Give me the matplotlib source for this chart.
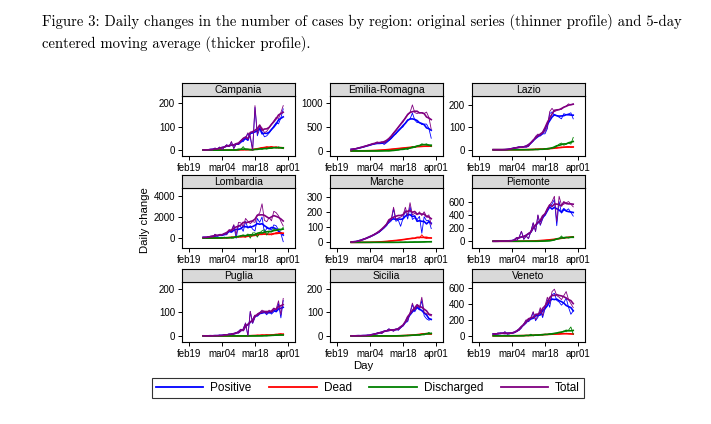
import numpy as np
import pandas as pd
import matplotlib
matplotlib.use("Agg")
import matplotlib.pyplot as plt
from matplotlib.lines import Line2D

# daily changes by region, 25 feb - 30 mar 2020
days = pd.date_range("2020-02-25", "2020-03-30")

campania_pos = [0, 0, 3, 1, 0, 9, 4, 13, 1, 14, 23, 15, 35, 7, 26, 24, 36, 36, 51, 70,
                55, 0, 182, 61, 91, 79, 57, 61, 73, 87, 103, 117, 112, 138, 176]
campania_dead = [0, 0, 0, 0, 0, 0, 0, 0, 0, 0, 0, 0, 0, 0, 1, 1, 2, 1, 2, 2,
                 3, 0, 5, 4, 8, 12, 10, 14, 12, 16, 10, 14, 9, 12, 8]
campania_disch = [0, 0, 0, 0, 0, 0, 0, 0, 0, 0, 0, 0, 2, 0, 0, 0, 3, 15, 1, 2,
                  2, 0, 3, 4, 6, 4, 8, 5, 10, 7, 12, 9, 14, 10, 6]
campania_total = [0, 0, 3, 1, 0, 9, 4, 13, 1, 14, 23, 15, 37, 7, 27, 25, 41, 52, 54, 74,
                  60, 0, 190, 69, 105, 95, 75, 80, 95, 110, 125, 140, 135, 160, 190]

emilia_pos = [10, 40, 49, 58, 68, 77, 96, 115, 124, 132, 150, 178, 154, 172, 135, 170, 220, 260, 330, 355,
              430, 475, 500, 585, 650, 665, 790, 645, 590, 595, 550, 560, 560, 470, 265]
emilia_dead = [0, 0, 1, 2, 2, 3, 4, 5, 6, 8, 10, 12, 16, 18, 20, 25, 30, 35, 40, 45,
               50, 55, 60, 65, 70, 75, 80, 85, 90, 95, 100, 90, 100, 110, 95]
emilia_disch = [0, 0, 0, 0, 0, 0, 0, 0, 0, 0, 0, 0, 0, 0, 5, 5, 0, 5, 10, 20,
                20, 30, 40, 50, 30, 60, 90, 70, 100, 110, 150, 130, 150, 120, 90]
emilia_total = [10, 40, 50, 60, 70, 80, 100, 120, 130, 140, 160, 190, 170, 190, 160, 200, 250, 300, 380, 420,
                500, 560, 600, 700, 750, 800, 960, 800, 780, 800, 800, 780, 810, 700, 450]

lazio_pos = [0, 0, 0, 0, 0, 0, 0, 2, 5, 8, 10, 12, 10, 15, 11, 15, 29, 38, 56, 67,
             61, 71, 71, 94, 161, 169, 154, 153, 145, 138, 161, 157, 160, 165, 138]
lazio_dead = [0, 0, 0, 0, 0, 0, 0, 0, 0, 0, 0, 0, 0, 0, 1, 0, 1, 2, 1, 3,
              2, 3, 4, 3, 5, 6, 8, 7, 10, 12, 9, 13, 15, 10, 12]
lazio_disch = [0, 0, 0, 0, 0, 0, 0, 0, 0, 0, 0, 0, 0, 0, 0, 0, 0, 0, 3, 0,
               2, 1, 5, 3, 4, 10, 8, 15, 25, 30, 20, 25, 30, 25, 55]
lazio_total = [0, 0, 0, 0, 0, 0, 0, 2, 5, 8, 10, 12, 10, 15, 12, 15, 30, 40, 60, 70,
               65, 75, 80, 100, 170, 185, 170, 175, 180, 180, 190, 195, 205, 200, 205]

lombardia_pos = [65, 18, 140, 85, 78, 368, 183, 249, 282, 306, 324, 689, 656, 1214, -13, 1240, 1068, 649, 1589, 935,
                 1175, 851, 674, 1862, 1499, 2005, 530, 935, 940, 747, 1256, 1168, 775, 426, -334]
lombardia_dead = [3, 0, 5, 3, 6, 1, 14, 17, 18, 25, 37, 19, 113, 66, 135, 149, 127, 146, 76, 252,
                  202, 220, 319, 209, 381, 546, 361, 320, 402, 296, 387, 541, 542, 416, 458]
lombardia_disch = [0, 0, 0, 40, 0, 0, 73, 0, 0, 100, 0, 100, 0, 0, 200, 100, 250, 300, 200, 400,
                   0, 500, 500, 100, 500, 700, 800, 300, 600, 600, 900, 700, 800, 750, 1030]
lombardia_total = [68, 18, 145, 128, 84, 369, 270, 266, 300, 431, 361, 808, 769, 1280, 322, 1489, 1445, 1095, 1865, 1587,
                   1377, 1571, 1493, 2171, 2380, 3251, 1691, 1555, 1942, 1643, 2543, 2409, 2117, 1592, 1154]

marche_pos = [0, 2, 5, 8, 10, 20, 25, 30, 35, 44, 54, 58, 67, 82, 95, 115, 127, 140, 220, 138,
              146, 105, 157, 208, 153, 234, 150, 161, 149, 170, 60, 168, 141, 145, 90]
marche_dead = [0, 0, 0, 0, 0, 0, 0, 0, 0, 1, 1, 2, 3, 3, 5, 5, 8, 10, 10, 12,
               14, 15, 18, 20, 22, 25, 28, 26, 30, 28, 50, 30, 25, 30, 30]
marche_disch = [0, 0, 0, 0, 0, 0, 0, 0, 0, 0, 0, 0, 0, 0, 0, 0, 0, 0, 0, 0,
                0, 1, 0, 2, 0, 1, 2, 3, 1, 2, 3, 2, 4, 5, 3]
marche_total = [0, 2, 5, 8, 10, 20, 25, 30, 35, 45, 55, 60, 70, 85, 100, 120, 135, 150, 230, 150,
                160, 165, 175, 230, 175, 260, 180, 190, 180, 200, 175, 200, 170, 180, 115]

piemonte_pos = [0, 0, 1, 0, 2, 5, 2, 3, 10, 15, 10, 60, 150, 29, 78, 38, 147, 277, 145, 392,
                240, 336, 400, 475, 527, 565, 630, 235, 600, 425, 470, 465, 490, 435, 380]
piemonte_dead = [0, 0, 0, 0, 0, 0, 0, 0, 0, 0, 0, 0, 0, 1, 2, 2, 3, 3, 5, 8,
                 10, 12, 15, 20, 18, 25, 30, 35, 40, 45, 50, 55, 60, 65, 70]
piemonte_disch = [0, 0, 0, 0, 0, 0, 0, 0, 0, 0, 0, 0, 0, 0, 0, 0, 0, 0, 0, 0,
                  0, 2, 5, 5, 5, 10, 20, 30, 40, 80, 40, 60, 50, 60, 70]
piemonte_total = [0, 0, 1, 0, 2, 5, 2, 3, 10, 15, 10, 60, 150, 30, 80, 40, 150, 280, 150, 400,
                  250, 350, 420, 500, 550, 600, 680, 300, 680, 550, 560, 580, 600, 560, 520]

puglia_pos = [0, 1, 0, 0, 0, 2, 0, 3, 0, 4, 5, 8, 4, 8, 15, 12, 20, 30, 55, 0,
              104, 53, 79, 92, 98, 106, 101, 90, 106, 93, 103, 107, 138, 77, 151]
puglia_dead = [0, 0, 0, 0, 0, 0, 0, 0, 0, 0, 0, 0, 0, 0, 0, 0, 0, 0, 0, 0,
               1, 2, 1, 3, 2, 4, 3, 5, 2, 4, 6, 3, 8, 10, 5]
puglia_disch = [0, 0, 0, 0, 0, 0, 0, 0, 0, 0, 0, 0, 0, 0, 0, 0, 0, 0, 0, 0,
                0, 0, 0, 0, 0, 0, 1, 0, 2, 3, 1, 5, 4, 3, 4]
puglia_total = [0, 1, 0, 0, 0, 2, 0, 3, 0, 4, 5, 8, 4, 8, 15, 12, 20, 30, 55, 0,
                105, 55, 80, 95, 100, 110, 105, 95, 110, 100, 110, 115, 150, 90, 160]

sicilia_pos = [0, 1, 0, 0, 1, 2, 0, 3, 1, 5, 8, 12, 15, 10, 20, 22, 30, 25, 20, 30,
               24, 34, 43, 57, 61, 95, 134, 103, 120, 111, 151, 86, 73, 67, 71]
sicilia_dead = [0, 0, 0, 0, 0, 0, 0, 0, 0, 0, 0, 0, 0, 0, 0, 0, 0, 0, 0, 0,
                1, 0, 2, 1, 3, 2, 4, 3, 5, 6, 8, 10, 12, 8, 6]
sicilia_disch = [0, 0, 0, 0, 0, 0, 0, 0, 0, 0, 0, 0, 0, 0, 0, 0, 0, 0, 0, 0,
                 0, 1, 0, 2, 1, 3, 2, 4, 5, 3, 6, 4, 10, 15, 8]
sicilia_total = [0, 1, 0, 0, 1, 2, 0, 3, 1, 5, 8, 12, 15, 10, 20, 22, 30, 25, 20, 30,
                 25, 35, 45, 60, 65, 100, 140, 110, 130, 120, 165, 100, 95, 90, 85]

veneto_pos = [15, 20, 35, 25, 30, 50, 20, 25, 35, 37, 54, 68, 98, 147, 191, 175, 205, 294, 187, 230,
              323, 226, 335, 448, 355, 512, 528, 440, 420, 381, 412, 470, 355, 268, 310]
veneto_dead = [0, 0, 0, 0, 0, 0, 0, 0, 0, 1, 1, 2, 2, 3, 4, 5, 5, 6, 8, 10,
               12, 14, 15, 17, 20, 18, 22, 25, 20, 24, 28, 30, 25, 22, 20]
veneto_disch = [0, 0, 0, 0, 0, 0, 0, 0, 0, 2, 0, 0, 0, 0, 5, 0, 20, 0, 5, 10,
                15, 10, 20, 15, 25, 20, 30, 35, 40, 45, 60, 50, 70, 110, 20]
veneto_total = [15, 20, 35, 25, 30, 50, 20, 25, 35, 40, 55, 70, 100, 150, 200, 180, 230, 300, 200, 250,
                350, 250, 370, 480, 400, 550, 580, 500, 480, 450, 500, 550, 450, 400, 350]

regions = ["Campania", "Emilia-Romagna", "Lazio", "Lombardia", "Marche",
           "Piemonte", "Puglia", "Sicilia", "Veneto"]
data = {
    "Campania": [campania_pos, campania_dead, campania_disch, campania_total],
    "Emilia-Romagna": [emilia_pos, emilia_dead, emilia_disch, emilia_total],
    "Lazio": [lazio_pos, lazio_dead, lazio_disch, lazio_total],
    "Lombardia": [lombardia_pos, lombardia_dead, lombardia_disch, lombardia_total],
    "Marche": [marche_pos, marche_dead, marche_disch, marche_total],
    "Piemonte": [piemonte_pos, piemonte_dead, piemonte_disch, piemonte_total],
    "Puglia": [puglia_pos, puglia_dead, puglia_disch, puglia_total],
    "Sicilia": [sicilia_pos, sicilia_dead, sicilia_disch, sicilia_total],
    "Veneto": [veneto_pos, veneto_dead, veneto_disch, veneto_total],
}
series_names = ["Positive", "Dead", "Discharged", "Total"]
yticks = {
    "Campania": [0, 100, 200], "Emilia-Romagna": [0, 500, 1000], "Lazio": [0, 100, 200],
    "Lombardia": [0, 2000, 4000], "Marche": [0, 100, 200, 300], "Piemonte": [0, 200, 400, 600],
    "Puglia": [0, 100, 200], "Sicilia": [0, 100, 200], "Veneto": [0, 200, 400, 600],
}
xtick_dates = pd.to_datetime(["2020-02-19", "2020-03-04", "2020-03-18", "2020-04-01"])
xtick_labels = ["feb19", "mar04", "mar18", "apr01"]

# ---- styling / layout ----
colors = ["#0000ff", "#ff0000", "#008000", "#800080"]
ylims = {
    "Campania": (-25, 231), "Emilia-Romagna": (-105, 1145), "Lazio": (-28, 240),
    "Lombardia": (-930, 4745), "Marche": (-37, 356), "Piemonte": (-102, 805),
    "Puglia": (-26, 230), "Sicilia": (-26, 230), "Veneto": (-77, 669),
}
W, H = 711, 424
col_left = [182, 330, 472]
row_top = [96, 188, 282]
pw, ph, th = 113, 60, 13

plt.rcParams["font.family"] = "Liberation Sans"

fig = plt.figure(figsize=(W / 100, H / 100), dpi=100)

fig.text(42 / W, 1 - 14 / H,
         "Figure 3: Daily changes in the number of cases by region: original series (thinner profile) and 5-day\n"
         "centered moving average (thicker profile).",
         family="cmr10", fontsize=10.6, va="top", ha="left", linespacing=1.5)

for k, reg in enumerate(regions):
    r, c = divmod(k, 3)
    x0, yt = col_left[c], row_top[r]
    ax = fig.add_axes([x0 / W, 1 - (yt + ph) / H, pw / W, ph / H])
    for vals, col in zip(data[reg], colors):
        s = pd.Series(vals, index=days, dtype=float)
        ma = s.rolling(5, center=True, min_periods=1).mean()
        ax.plot(days, s, color=col, lw=0.6)
        ax.plot(days, ma, color=col, lw=1.2)
    ax.set_xlim(pd.Timestamp("2020-02-16"), pd.Timestamp("2020-04-04"))
    ax.set_ylim(*ylims[reg])
    ax.set_xticks(xtick_dates)
    ax.set_xticklabels(xtick_labels)
    ax.set_yticks(yticks[reg])
    ax.tick_params(labelsize=7, length=3, width=0.7, pad=2, direction="out")
    for sp in ax.spines.values():
        sp.set_linewidth(0.8)

    tax = fig.add_axes([x0 / W, 1 - yt / H, pw / W, th / H])
    tax.set_facecolor("#d9d9d9")
    tax.set_xticks([])
    tax.set_yticks([])
    for sp in tax.spines.values():
        sp.set_linewidth(0.8)
    tax.text(0.5, 0.45, reg, ha="center", va="center", fontsize=7.5, transform=tax.transAxes)

fig.text(145 / W, 1 - 220 / H, "Daily change", rotation=90, ha="center", va="center", fontsize=8.2)
fig.text(363 / W, 1 - 366 / H, "Day", ha="center", va="center", fontsize=8.2)

handles = [Line2D([], [], color=col, lw=1.3) for col in colors]
leg = fig.legend(handles, series_names, ncol=4, loc="center",
                 bbox_to_anchor=(368 / W, 1 - 388 / H), fontsize=8.5,
                 frameon=True, fancybox=False, edgecolor="black",
                 handlelength=4.0, handletextpad=0.6, columnspacing=1.5,
                 borderpad=0.35, borderaxespad=0)
leg.get_frame().set_linewidth(0.8)

fig.savefig("out.png", dpi=100)
